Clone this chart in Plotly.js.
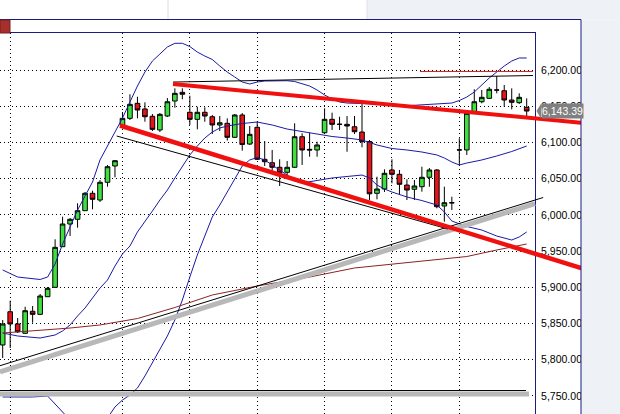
<!DOCTYPE html>
<html><head><meta charset="utf-8">
<script src="https://cdn.plot.ly/plotly-3.0.1.min.js"></script>
<style>html,body{margin:0;padding:0;background:#fff;}#chart{width:620px;height:414px;}</style>
</head><body><div id="chart"></div>
<script>
// ---- candle data (bar index 0..70) ----
const openP  = [5820.4,5866.3,5849.4,5836.5,5866.9,5862.7,5887.0,5900.0,5956.1,5987.4,5993.9,6005.8,6029.8,6020.5,6045.0,6067.5,6123.1,6133.3,6154.0,6146.2,6136.1,6117.2,6136.5,6157.2,6169.2,6141.6,6131.9,6141.6,6135.5,6124.1,6126.4,6107.1,6137.9,6097.8,6120.9,6076.7,6072.0,6065.7,6058.8,6065.7,6107.9,6090.5,6089.6,6113.4,6131.9,6125.2,6125.0,6121.7,6114.4,6101.3,6029.8,6035.7,6062.0,6056.0,6041.2,6035.3,6038.9,6051.9,6062.0,6012.3,6016.5,6089.8,6089.6,6142.4,6156.2,6160.9,6172.4,6171.4,6158.6,6154.9,6148.5];
const highP  = [5854.9,5881.5,5857.6,5873.2,5874.2,5890.8,5900.4,5966.3,5997.5,5995.7,6016.0,6031.6,6033.4,6048.1,6068.9,6075.8,6142.0,6166.5,6163.1,6155.4,6139.3,6140.6,6161.3,6174.7,6174.7,6164.5,6149.3,6148.5,6137.9,6136.5,6133.3,6139.3,6140.6,6122.7,6128.6,6102.0,6089.6,6076.7,6074.4,6126.4,6112.6,6113.4,6101.0,6147.1,6141.1,6135.5,6136.5,6136.5,6154.0,6103.4,6052.7,6062.9,6076.7,6062.0,6049.1,6048.1,6066.5,6064.7,6063.3,6038.9,6025.1,6105.7,6144.8,6173.4,6172.4,6176.5,6191.7,6179.3,6174.7,6167.8,6160.9];
const lowP   = [5802.4,5816.2,5836.9,5836.0,5851.1,5861.7,5886.6,5899.0,5955.7,5970.8,5982.3,6005.4,6007.7,6017.8,6038.9,6051.9,6121.3,6131.0,6133.3,6128.6,6115.8,6114.4,6135.1,6148.0,6159.6,6124.1,6118.1,6128.6,6111.6,6115.8,6102.7,6106.1,6088.6,6096.5,6075.8,6067.5,6061.0,6039.9,6055.0,6064.7,6068.9,6080.3,6080.3,6113.0,6117.2,6117.2,6087.2,6111.6,6093.3,6020.5,6021.5,6031.6,6043.6,6028.8,6020.5,6020.5,6032.0,6038.9,6009.1,5990.6,6006.7,6068.9,6082.7,6140.6,6154.0,6160.0,6167.8,6149.3,6145.7,6153.1,6135.5];
const closeP = [5849.4,5849.4,5838.7,5867.7,5862.7,5888.0,5898.6,5955.2,5987.4,5993.9,6005.8,6029.8,6021.5,6045.0,6066.5,6074.8,6133.3,6152.6,6144.8,6135.5,6118.1,6138.8,6156.2,6167.8,6166.5,6131.9,6141.6,6136.5,6124.1,6127.2,6107.1,6137.9,6097.2,6111.2,6076.7,6073.4,6065.7,6058.2,6065.7,6107.9,6089.6,6089.6,6096.5,6131.9,6125.0,6125.0,6122.7,6114.8,6101.0,6029.1,6035.7,6057.4,6056.0,6042.2,6034.3,6039.9,6051.9,6062.0,6011.3,6016.8,6016.8,6089.6,6140.2,6156.2,6162.3,6173.4,6172.4,6158.6,6155.4,6162.3,6143.39];
const barIdx = openP.map((_, i) => i);

// ---- Bollinger bands, read at bar indices ----
const upperIdx = [0,2,5,6,7,8,9,10,11,12,13,14,15,16,17,18,19,20,21,22,23,24,25,26,27,28,29,30,31,32,33,34,35,36,38,39,40,41,42,43,44,45,46,48,50,52,54,56,58,59,60,61,62,63,64,65,66,67,68,69,70];
const upperVal = [5923.9,5914.2,5910.8,5914.2,5932.2,5959.8,5983.3,6006.7,6026.1,6045.4,6075.8,6095.1,6114.4,6133.7,6155.8,6177.9,6197.2,6212.4,6222.1,6231.8,6236.9,6236.9,6232.4,6224.8,6219.3,6214.5,6205.5,6197.2,6190.3,6183.4,6180.7,6183.4,6184.8,6185.2,6185.2,6184.1,6180.7,6177.9,6172.4,6165.5,6160.0,6155.8,6154.4,6154.0,6153.8,6152.4,6150.7,6151.7,6152.4,6153.1,6154.4,6157.9,6162.7,6169.6,6179.3,6189.0,6197.2,6205.5,6212.4,6216.6,6216.6];
const midIdx = [0,2,5,7,8,9,10,11,12,13,14,15,16,17,18,19,20,21,22,23,24,25,26,27,28,29,30,32,34,36,38,40,42,44,46,48,50,52,54,56,58,59,60,61,62,63,64,66,68,70];
const midVal = [5836.9,5832.8,5830.0,5834.2,5839.7,5848.0,5860.4,5871.4,5885.2,5899.0,5910.1,5929.4,5946.0,5957.0,5976.4,5990.2,6005.4,6020.5,6034.3,6050.9,6067.5,6082.7,6095.1,6106.1,6114.4,6119.9,6122.7,6126.1,6128.2,6124.1,6118.5,6115.1,6111.6,6108.2,6106.1,6103.4,6096.5,6091.6,6089.6,6086.8,6082.7,6078.5,6073.0,6068.9,6071.6,6073.7,6075.8,6081.3,6087.5,6095.1];
const lowerIdx = [0,4,6,8,10,12,14,15,16,17,18,19,20,21,22,23,24,25,26,27,28,29,30,31,32,33,34,35,36,37,38,39,40,42,44,46,48,49,50,51,52,54,56,58,59,60,61,62,64,66,68,69,70];
const lowerVal = [5748.6,5748.6,5749.9,5727.9,5705.8,5700.3,5719.6,5734.8,5744.4,5751.3,5761.0,5777.6,5795.5,5813.5,5832.8,5854.9,5882.5,5914.2,5944.6,5970.8,5997.1,6013.6,6031.6,6050.9,6067.5,6075.8,6079.2,6075.8,6068.9,6061.9,6055.0,6046.8,6044.0,6047.5,6050.9,6053.0,6055.0,6050.9,6041.2,6035.7,6031.6,6024.7,6019.8,6013.6,6004.0,5991.5,5987.4,5984.0,5979.1,5970.8,5965.3,5969.5,5976.4];
// ---- long moving average ----
const maIdx = [0,9,13,18,23,28,34,41,47,55,62,66,70];
const maVal = [5836.9,5843.8,5848.0,5856.9,5872.1,5889.4,5901.8,5914.2,5926.7,5934.9,5942.5,5951.5,5959.8];

// ---- hand-drawn lines: [bar0, bar1] and [value0, value1] ----
const topBlackX = [22.75, 70.84],  topBlackY = [6183.4, 6192.4];
const topRedX   = [55.74, 70.84],  topRedY   = [6197.9, 6197.9];
const redUpX    = [22.75, 82.46],  redUpY    = [6180.7, 6122.0];
const redLowX   = [15.67, 82.46],  redLowY   = [6123.4, 5910.1];
const blkLowX   = [15.23, 59.48],  blkLowY   = [6108.9, 5980.5];
const supBlkX   = [-0.36, 72.2],   supBlkY   = [5791.8, 6024.0];
const supGryX   = [-0.36, 71.11],  supGryY   = [5783.1, 6015.7];
const botBlkX   = [-0.36, 69.9],   botBlkY   = [5757.5, 5757.5];
const botGryX   = [-0.36, 70.3],   botGryY   = [5752.7, 5752.7];

const gridBars = [1,16,25,34,43,52,61];
const priceTicks = [5750,5800,5850,5900,5950,6000,6050,6100,6150,6200];
const lastClose = closeP[closeP.length - 1];

const navy = '#1c1c80', band = '#1a1aa6';
const W = 620, H = 414;
const yRange = [5725.1, 6251.1];

function ln(x, y, color, width, ax) {
  return {type:'scatter', mode:'lines', x:x, y:y, xaxis: ax ? 'x2':'x', yaxis: ax ? 'y2':'y',
          line:{color:color, width:width}, hoverinfo:'skip'};
}

const traces = [
  {type:'candlestick', x:barIdx, open:openP, high:highP, low:lowP, close:closeP,
   increasing:{line:{color:'#000', width:1}, fillcolor:'#3ee03e'},
   decreasing:{line:{color:'#000', width:1}, fillcolor:'#e4141a'},
   whiskerwidth:0, hoverinfo:'skip'},
  ln(upperIdx, upperVal, band, 1),
  ln(midIdx, midVal, band, 1),
  ln(lowerIdx, lowerVal, band, 1),
  ln(maIdx, maVal, '#8c2323', 1),
  ln(supGryX, supGryY, '#b8b8b8', 5, true),
  ln(botGryX, botGryY, '#b8b8b8', 5, true),
  ln(supBlkX, supBlkY, '#000', 1, true),
  ln(botBlkX, botBlkY, '#000', 1, true),
  ln(blkLowX, blkLowY, '#000', 1, true),
  ln(topBlackX, topBlackY, '#000', 1, true),
  ln(topRedX, topRedY, '#e02020', 1, true),
  ln(redUpX, redUpY, '#f01010', 4, true),
  ln(redLowX, redLowY, '#f01010', 4.5, true)
];

const pyTop = 19.5; // outer frame
const py = v => (H - v) / H;
const px = v => v / W;

const layout = {
  width: W, height: H, margin:{l:0, r:0, t:0, b:0},
  paper_bgcolor:'#ffffff', plot_bgcolor:'rgba(0,0,0,0)', showlegend:false,
  boxgap: 0.12,
  xaxis:{domain:[0, 535/W], range:[-0.3607, 71.11], side:'top', showline:true, linecolor:navy, linewidth:1,
         tickvals:gridBars, showticklabels:false, ticks:'', showgrid:true, gridcolor:'#000', gridwidth:1,
         griddash:'1px,3px', zeroline:false, rangeslider:{visible:false}, fixedrange:true},
  yaxis:{domain:[0, 381/H], range:yRange, side:'right', showline:true, linecolor:navy, linewidth:1,
         ticks:'', tickvals:priceTicks, tickformat:',.2f', ticklabelstandoff:3,
         tickfont:{family:'Liberation Sans', size:10.5, color:'#000'},
         showgrid:true, gridcolor:'#000', gridwidth:1, griddash:'1px,3px', zeroline:false, fixedrange:true},
  xaxis2:{domain:[0,1], range:[-0.3607, 82.46], anchor:'y2', visible:false, fixedrange:true},
  yaxis2:{domain:[0, 381/H], range:yRange, anchor:'x2', visible:false, fixedrange:true},
  shapes:[
    {type:'rect', xref:'paper', yref:'paper', x0:px(367), x1:1, y0:py(pyTop), y1:1, fillcolor:'#eef1f6', line:{width:0}},
    {type:'line', xref:'paper', yref:'paper', x0:px(367), x1:px(367), y0:py(pyTop), y1:1, line:{color:'#dde1ea', width:1}},
    {type:'line', xref:'paper', yref:'paper', x0:px(168), x1:px(168), y0:py(pyTop), y1:1, line:{color:'#dcdcdc', width:1}},
    {type:'rect', xref:'paper', yref:'paper', x0:px(581), x1:1, y0:0, y1:py(pyTop), fillcolor:'#eef1f6', line:{width:0}},
    {type:'line', xref:'paper', yref:'paper', x0:0, x1:px(581), y0:py(pyTop), y1:py(pyTop), line:{color:navy, width:1}},
    {type:'line', xref:'paper', yref:'paper', x0:px(581), x1:px(581), y0:0, y1:py(pyTop), line:{color:navy, width:1}},
    {type:'rect', xref:'paper', yref:'paper', x0:0, x1:px(10), y0:py(33), y1:py(20), fillcolor:'#a8302c', line:{color:'#7a1e1c', width:1}},
    {type:'path', xref:'paper', yref:'y', fillcolor:'#808080', line:{width:0},
     path:'M ' + px(536.5) + ' ' + lastClose + ' L ' + px(541) + ' ' + (lastClose + 10.2) + ' L ' + px(541) + ' ' + (lastClose - 10.2) + ' Z'}
  ],
  annotations:[
    {xref:'paper', yref:'y', x:px(540.5), y:lastClose, xanchor:'left', yanchor:'middle', showarrow:false,
     text: lastClose.toLocaleString('en-US', {minimumFractionDigits:2, maximumFractionDigits:2}),
     bgcolor:'#808080', borderpad:0, width:41, height:14, align:'left',
     font:{family:'Liberation Sans', size:10.5, color:'#ffffff'}}
  ]
};

Plotly.newPlot('chart', traces, layout, {staticPlot:true, displayModeBar:false});
</script>
</body></html>
